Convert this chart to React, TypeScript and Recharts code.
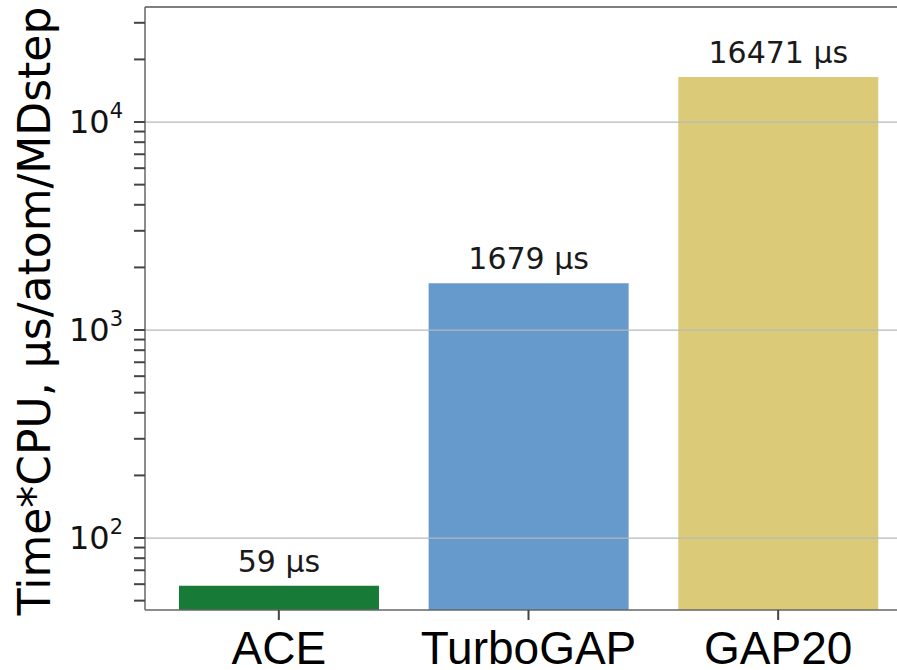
import { BarChart, Bar, XAxis, YAxis, ReferenceLine, Cell, LabelList } from "recharts"

const models = ["ACE", "TurboGAP", "GAP20"]
const timesUs = [59, 1679, 16471]
const barColors = ["#177a37", "#6699cc", "#dbcb78"]

const yTicks = [
  50, 60, 70, 80, 90, 100, 200, 300, 400, 500, 600, 700, 800, 900, 1000, 2000, 3000, 4000, 5000, 6000,
  7000, 8000, 9000, 10000, 20000, 30000,
]
const yMajor = [100, 1000, 10000]
const yDomain = [45.08, 35730]

const data = models.map((name, i) => ({ name, time: timesUs[i] }))

const dejavu = "'DejaVu Sans', sans-serif"

function YTick(props: any) {
  const { x, y, payload } = props
  const v = payload.value as number
  if (!yMajor.includes(v)) return null
  const exp = Math.round(Math.log10(v))
  return (
    <text x={x - 9} y={y} dy={11} textAnchor="end" fontFamily={dejavu} fontSize={32} fill="#111">
      <tspan>10</tspan>
      <tspan dy={-15} fontSize={21}>
        {exp}
      </tspan>
    </text>
  )
}

function XTick(props: any) {
  const { x, y, payload } = props
  return (
    <text x={x} y={y} dy={42} textAnchor="middle" fontFamily="'Liberation Sans', Arial, sans-serif" fontSize={46} fill="#000">
      {payload.value}
    </text>
  )
}

function BarValue(props: any) {
  const { x, y, width, value } = props
  return (
    <text x={x + width / 2} y={y - 14} textAnchor="middle" fontFamily={dejavu} fontSize={30} fill="#1a1a1a">
      {`${value} µs`}
    </text>
  )
}

export default function App() {
  return (
    <div style={{ position: "fixed", left: 0, top: 0, width: 897, height: 670, overflow: "hidden", background: "#fff" }}>
      <BarChart width={920} height={670} data={data} margin={{ top: 7, right: 9, left: 0, bottom: 0 }} barCategoryGap="10%">
        <XAxis
          dataKey="name"
          height={60}
          padding={{ left: 9, right: 8 }}
          axisLine={{ stroke: "#666", strokeWidth: 1.5 }}
          tickLine={{ stroke: "#444", strokeWidth: 2 }}
          tickSize={10}
          tick={<XTick />}
          interval={0}
        />
        <YAxis
          type="number"
          scale="log"
          domain={yDomain}
          allowDataOverflow
          ticks={yTicks}
          interval={0}
          width={145}
          tickSize={11}
          axisLine={{ stroke: "#666", strokeWidth: 1.5 }}
          tickLine={{ stroke: "#444", strokeWidth: 2 }}
          tick={<YTick />}
          label={{
            content: () => (
              <text
                x={50}
                y={311}
                transform="rotate(-90 50 311)"
                textAnchor="middle"
                fontFamily={dejavu}
                fontSize={44}
                fill="#000"
              >
                Time*CPU, µs/atom/MDstep
              </text>
            ),
          }}
        />
        <Bar dataKey="time" isAnimationActive={false}>
          {data.map((d, i) => (
            <Cell key={d.name} fill={barColors[i]} />
          ))}
          <LabelList dataKey="time" content={<BarValue />} />
        </Bar>
        {yMajor.map((v) => (
          <ReferenceLine key={v} y={v} stroke="#b8b8b8" strokeWidth={1.2} />
        ))}
        <ReferenceLine y={yDomain[1]} stroke="#555" strokeWidth={1.5} />
      </BarChart>
    </div>
  )
}
